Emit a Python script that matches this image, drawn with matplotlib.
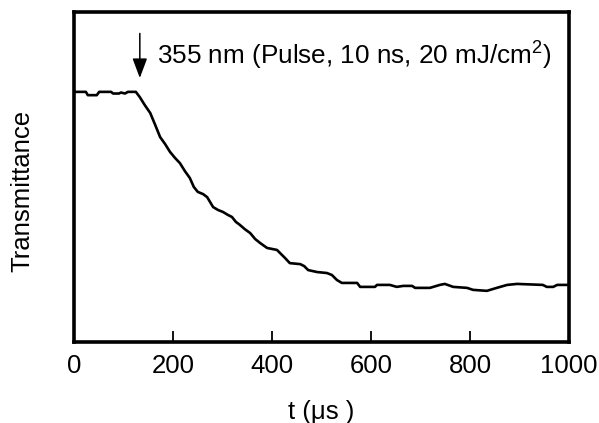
import matplotlib
matplotlib.use("Agg")
import matplotlib.pyplot as plt

plt.rcParams['font.family'] = ['Liberation Sans', 'DejaVu Sans']
plt.rcParams['mathtext.fontset'] = 'custom'
plt.rcParams['mathtext.rm'] = 'Liberation Sans'

# transient transmittance trace (arbitrary units)
t_us = [0, 24, 28, 46, 51, 75, 79, 91, 95, 103, 109, 125, 133, 143, 154, 164,
        174, 184, 194, 204, 214, 224, 234, 242, 250, 261, 269, 281, 291, 301,
        311, 319, 327, 335, 345, 356, 366, 376, 390, 400, 410, 418, 426, 436,
        457, 465, 473, 491, 511, 521, 531, 541, 572, 578, 608, 612, 638, 652,
        665, 683, 689, 719, 739, 749, 766, 794, 806, 834, 854, 875, 895, 947,
        955, 968, 976, 1000]
trans = [0.758, 0.758, 0.748, 0.748, 0.758, 0.758, 0.753, 0.753, 0.756, 0.753,
         0.758, 0.758, 0.742, 0.718, 0.694, 0.658, 0.621, 0.600, 0.576, 0.558,
         0.542, 0.518, 0.497, 0.470, 0.455, 0.448, 0.439, 0.409, 0.400, 0.394,
         0.385, 0.379, 0.364, 0.355, 0.342, 0.330, 0.312, 0.300, 0.285, 0.282,
         0.279, 0.267, 0.255, 0.239, 0.236, 0.230, 0.218, 0.212, 0.209, 0.203,
         0.188, 0.179, 0.179, 0.167, 0.167, 0.173, 0.173, 0.167, 0.170, 0.170,
         0.164, 0.164, 0.173, 0.176, 0.167, 0.164, 0.158, 0.155, 0.164, 0.173,
         0.176, 0.173, 0.167, 0.167, 0.173, 0.173]

xticks = [0, 200, 400, 600, 800, 1000]
pulse_t = 133
pulse_label = "355 nm (Pulse, 10 ns, 20 mJ/cm$^{\\mathregular{2}}$)"

fig = plt.figure(figsize=(5.99, 4.23), dpi=100)
ax = fig.add_axes([0.1235, 0.1915, 0.8265, 0.7801])

ax.plot(t_us, trans, color='black', lw=1.9)

ax.set_xlim(0, 1000)
ax.set_ylim(0, 1)
ax.set_xticks(xticks)
ax.set_xticklabels([str(v) for v in xticks], fontsize=18.5)
ax.set_yticks([])
ax.tick_params(axis='x', direction='in', length=8, width=1.3, pad=9)

for s in ax.spines.values():
    s.set_linewidth(2.6)

ax.annotate("", xy=(pulse_t, 0.800), xytext=(pulse_t, 0.935),
            arrowprops=dict(arrowstyle='-|>,head_width=0.45,head_length=1.2',
                            color='black', lw=1.1, mutation_scale=10,
                            shrinkA=0, shrinkB=0))
ax.text(pulse_t + 34, 0.871, pulse_label, fontsize=18.8, va='center', ha='left')

fig.text(0.537, 0.027, "t (μs )", fontsize=18.5, ha='center', va='center')
fig.text(0.037, 0.548, "Transmittance", fontsize=18.5, ha='center', va='center',
         rotation=90)

fig.savefig("out.png", dpi=100)
